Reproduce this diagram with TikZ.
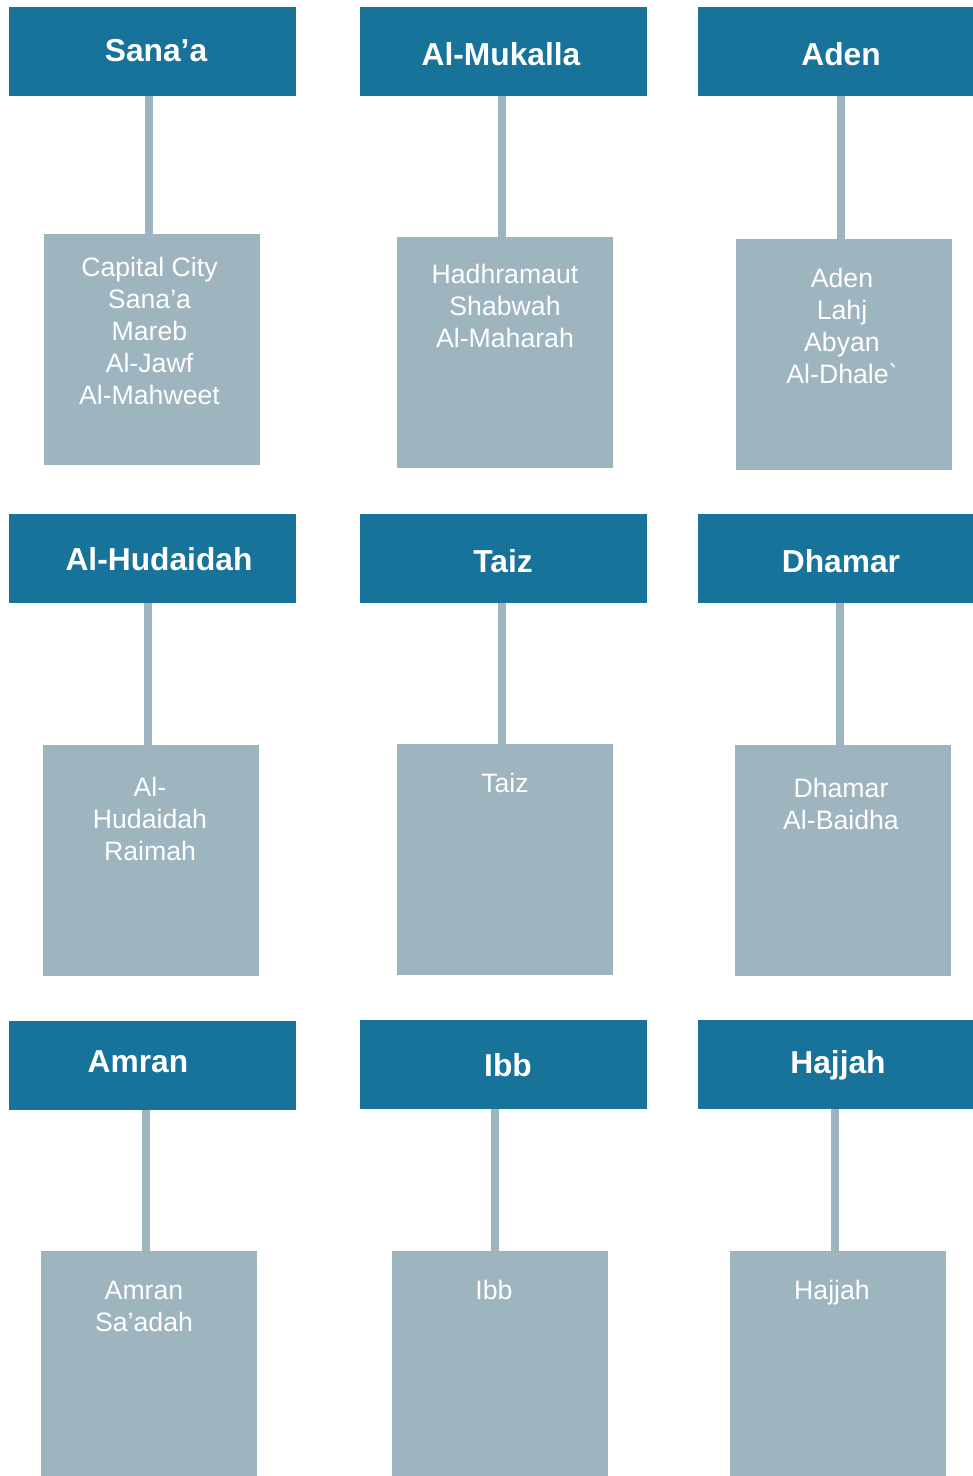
\documentclass[tikz,border=0pt]{standalone}
\usepackage{fontspec}
\setmainfont{Liberation Sans}[Ligatures=TeXOff]
\usetikzlibrary{positioning}
\definecolor{head}{HTML}{17739A}
\definecolor{gov}{HTML}{9EB4BE}

\begin{document}
\begin{tikzpicture}[x=0.75pt,y=-0.75pt,
    hdr/.style={fill=head,minimum width=215.25pt,minimum height=66.75pt,inner sep=0pt},
    hdrtxt/.style={anchor=base,inner sep=0pt,text=white,font=\bfseries\fontsize{23.8}{28}\selectfont},
    govbox/.style={fill=gov,minimum width=162pt,minimum height=173.25pt,inner sep=0pt},
    govtxt/.style={anchor=north,inner sep=0pt,align=center,text=white,font=\fontsize{20}{24}\selectfont,execute at begin node=\strut},
    link/.style={draw=gov,line width=6pt}]
    \useasboundingbox (0,0) rectangle (973,1476);
    \node (sanaa) [hdr] at (152.5,51.5) {};
    \node (mukalla) [hdr] at (503.5,51.5) {};
    \node (aden) [hdr,minimum width=206.25pt] at (835.5,51.5) {};
    \node (hudaidah) [hdr] at (152.5,558.5) {};
    \node (taiz) [hdr] at (503.5,558.5) {};
    \node (dhamar) [hdr,minimum width=206.25pt] at (835.5,558.5) {};
    \node (amran) [hdr] at (152.5,1065.5) {};
    \node (ibb) [hdr] at (503.5,1064.5) {};
    \node (hajjah) [hdr,minimum width=206.25pt] at (835.5,1064.5) {};
    \node (sanaaT) [hdrtxt] at (156,62) {Sana’a};
    \node (mukallaT) [hdrtxt] at (501,65.5) {Al-Mukalla};
    \node (adenT) [hdrtxt] at (841,65.5) {Aden};
    \node (hudaidahT) [hdrtxt] at (159,570.5) {Al-Hudaidah};
    \node (taizT) [hdrtxt] at (503,572.5) {Taiz};
    \node (dhamarT) [hdrtxt] at (841,572.5) {Dhamar};
    \node (amranT) [hdrtxt] at (138,1072.5) {Amran};
    \node (ibbT) [hdrtxt] at (508,1076.5) {Ibb};
    \node (hajjahT) [hdrtxt] at (838,1073.5) {Hajjah};
    \node (sanaaG) [govbox] at (152,349.5) {};
    \node (mukallaG) [govbox] at (505,352.5) {};
    \node (adenG) [govbox] at (844,354.5) {};
    \node (hudaidahG) [govbox] at (151,860.5) {};
    \node (taizG) [govbox] at (505,859.5) {};
    \node (dhamarG) [govbox] at (843,860.5) {};
    \node (amranG) [govbox,minimum height=168.75pt] at (149,1363.5) {};
    \node (ibbG) [govbox,minimum height=168.75pt] at (500,1363.5) {};
    \node (hajjahG) [govbox,minimum height=168.75pt] at (838,1363.5) {};
    \node (sanaaL) [govtxt] at (149.5,257) {Capital City\\Sana’a\\Mareb\\Al-Jawf\\Al-Mahweet};
    \node (mukallaL) [govtxt] at (505,264) {Hadhramaut\\Shabwah\\Al-Maharah};
    \node (adenL) [govtxt] at (842,268) {Aden\\Lahj\\Abyan\\Al-Dhale`};
    \node (hudaidahL) [govtxt] at (150,777) {Al-\\Hudaidah\\Raimah};
    \node (taizL) [govtxt] at (505,770) {Taiz};
    \node (dhamarL) [govtxt] at (841,778) {Dhamar\\Al-Baidha};
    \node (amranL) [govtxt] at (144,1281) {Amran\\Sa’adah};
    \node (ibbL) [govtxt] at (494,1277) {Ibb};
    \node (hajjahL) [govtxt] at (832,1277) {Hajjah};
    \draw[link] ([xshift=-2.6pt]sanaa.south -| sanaaG.north) -- ([xshift=-2.6pt]sanaaG.north);
    \draw[link] ([xshift=-2.6pt]mukalla.south -| mukallaG.north) -- ([xshift=-2.6pt]mukallaG.north);
    \draw[link] ([xshift=-2.6pt]aden.south -| adenG.north) -- ([xshift=-2.6pt]adenG.north);
    \draw[link] ([xshift=-2.6pt]hudaidah.south -| hudaidahG.north) -- ([xshift=-2.6pt]hudaidahG.north);
    \draw[link] ([xshift=-2.6pt]taiz.south -| taizG.north) -- ([xshift=-2.6pt]taizG.north);
    \draw[link] ([xshift=-2.6pt]dhamar.south -| dhamarG.north) -- ([xshift=-2.6pt]dhamarG.north);
    \draw[link] ([xshift=-2.6pt]amran.south -| amranG.north) -- ([xshift=-2.6pt]amranG.north);
    \draw[link] ([xshift=-3.5pt]ibb.south -| ibbG.north) -- ([xshift=-3.5pt]ibbG.north);
    \draw[link] ([xshift=-2.6pt]hajjah.south -| hajjahG.north) -- ([xshift=-2.6pt]hajjahG.north);
  \end{tikzpicture}
\end{document}
